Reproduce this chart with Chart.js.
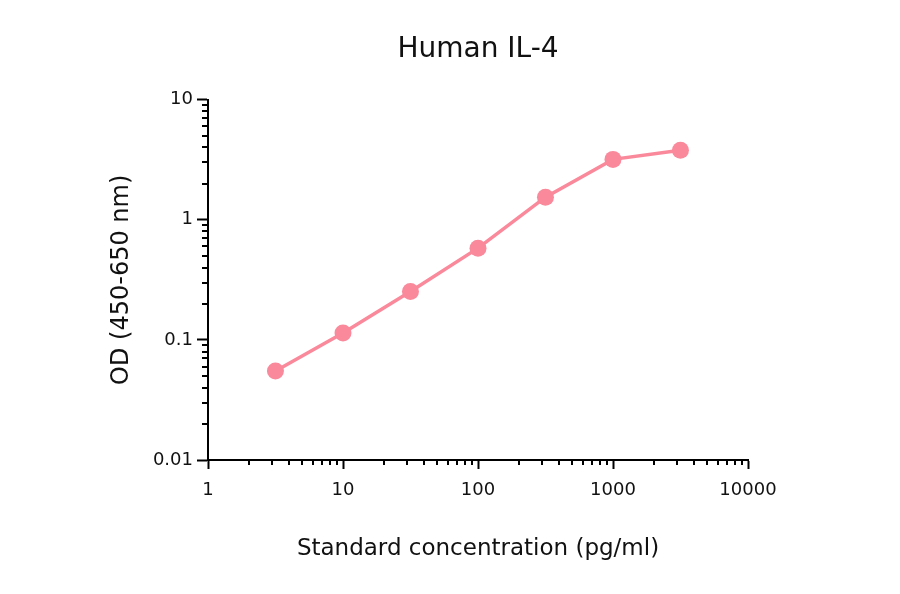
<!DOCTYPE html>
<html>
<head>
<meta charset="utf-8">
<script src="https://cdn.jsdelivr.net/npm/chart.js@4.4.1/dist/chart.umd.min.js"></script>
<style>
  html, body { margin: 0; padding: 0; background: #fff; }
  #wrap { width: 900px; height: 594px; }
</style>
</head>
<body>
<div id="wrap"><canvas id="canvas" width="900" height="594"></canvas></div>
<script>
// data
const concentrations = [3.16, 10, 31.6, 100, 316, 1000, 3160];
const odValues = [0.055, 0.114, 0.253, 0.58, 1.54, 3.18, 3.78];

// axis decades (labelled ticks)
const xMajorTicks = [1, 10, 100, 1000, 10000];
const yMajorTicks = [0.01, 0.1, 1, 10];

const lineColor = "rgb(250, 137, 155)";
const fontFamily = "'DejaVu Sans', Verdana, sans-serif";

// majors + 2..9 minors in every decade
function logTicks(majors) {
  const ticks = [];
  majors.forEach(function (m, i) {
    ticks.push({ value: m, major: true });
    if (i < majors.length - 1) {
      for (let k = 2; k <= 9; k++) {
        ticks.push({ value: +(m * k).toPrecision(6), major: false });
      }
    }
  });
  return ticks;
}

// short minor ticks, drawn through the scales
const minorTicks = {
  id: "minorTicks",
  afterDraw(chart) {
    const ctx = chart.ctx;
    const area = chart.chartArea;
    ctx.save();
    ctx.strokeStyle = "#000";
    ctx.lineWidth = 2;
    ctx.beginPath();
    chart.scales.x.ticks.forEach(function (t) {
      if (t.major) return;
      const px = Math.round(chart.scales.x.getPixelForValue(t.value));
      ctx.moveTo(px, area.bottom);
      ctx.lineTo(px, area.bottom + 5);
    });
    chart.scales.y.ticks.forEach(function (t) {
      if (t.major) return;
      const py = Math.round(chart.scales.y.getPixelForValue(t.value));
      ctx.moveTo(area.left, py);
      ctx.lineTo(area.left - 6, py);
    });
    ctx.stroke();
    ctx.restore();
  },
};

const points = concentrations.map(function (c, i) {
  return { x: c, y: odValues[i] };
});

// config
const config = {
  type: "line",
  data: {
    datasets: [
      {
        label: "Human IL-4",
        data: points,
        borderColor: lineColor,
        backgroundColor: lineColor,
        borderWidth: 3.5,
        pointRadius: 8.5,
        pointHoverRadius: 8.5,
        pointBorderWidth: 0,
        tension: 0,
      },
    ],
  },
  options: {
    responsive: false,
    animation: false,
    layout: { padding: { left: 0, right: 152, top: 0, bottom: 0 } },
    plugins: {
      legend: { display: false },
      tooltip: { enabled: false },
      title: {
        display: true,
        fullSize: false,
        text: "Human IL-4",
        color: "#111",
        font: { family: fontFamily, size: 28, weight: "normal" },
        padding: { top: 33, bottom: 33 },
      },
    },
    scales: {
      x: {
        type: "logarithmic",
        min: 1,
        max: 10000,
        afterBuildTicks(scale) {
          scale.ticks = logTicks(xMajorTicks);
        },
        afterFit(scale) {
          scale.height = 134;
        },
        border: { display: true, color: "#000", width: 2 },
        grid: {
          drawOnChartArea: false,
          drawTicks: true,
          tickLength: 9,
          tickWidth: 2,
          tickColor: function (ctx) {
            return ctx.tick && ctx.tick.major ? "#000" : "rgba(0,0,0,0)";
          },
        },
        ticks: {
          autoSkip: false,
          maxRotation: 0,
          padding: 11,
          color: "#111",
          font: { family: fontFamily, size: 18 },
          callback: function (value, index, ticks) {
            return ticks[index].major ? String(value) : "";
          },
        },
        title: {
          display: true,
          text: "Standard concentration (pg/ml)",
          color: "#111",
          font: { family: fontFamily, size: 23 },
          padding: { top: 0, bottom: 31 },
        },
      },
      y: {
        type: "logarithmic",
        min: 0.01,
        max: 10,
        afterBuildTicks(scale) {
          scale.ticks = logTicks(yMajorTicks);
        },
        afterFit(scale) {
          scale.width = 208;
        },
        border: { display: true, color: "#000", width: 2 },
        grid: {
          drawOnChartArea: false,
          drawTicks: true,
          tickLength: 11,
          tickWidth: 2,
          tickColor: function (ctx) {
            return ctx.tick && ctx.tick.major ? "#000" : "rgba(0,0,0,0)";
          },
        },
        ticks: {
          autoSkip: false,
          padding: 4,
          color: "#111",
          font: { family: fontFamily, size: 18 },
          callback: function (value, index, ticks) {
            return ticks[index].major ? String(value) : "";
          },
        },
        title: {
          display: true,
          text: "OD (450-650 nm)",
          color: "#111",
          font: { family: fontFamily, size: 24 },
          padding: { top: 107, bottom: 0 },
        },
      },
    },
  },
  plugins: [minorTicks],
};

// render init block
const myChart = new Chart(document.getElementById("canvas"), config);
</script>
</body>
</html>
